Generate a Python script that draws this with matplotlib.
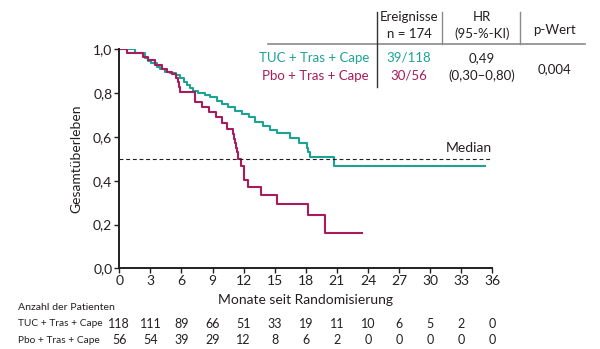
import numpy as np
import matplotlib
matplotlib.use('Agg')
import matplotlib.pyplot as plt
from matplotlib.lines import Line2D

# Kaplan-Meier steps (months, survival)
tuc_t = [0, 1.5, 2.5, 2.8, 3.1, 3.6, 3.9, 4.4, 4.9, 5.5, 5.9, 6.2, 6.5, 6.8, 7.1,
         7.6, 8.3, 8.8, 9.4, 9.9, 10.5, 11.2, 11.8, 12.5, 13.1, 13.9, 14.5, 15.2,
         16.5, 17.3, 18.1, 18.2, 18.4, 20.7, 35.3]
tuc_s = [1.0, 0.982, 0.959, 0.947, 0.936, 0.92, 0.91, 0.898, 0.89, 0.883, 0.868,
         0.852, 0.837, 0.822, 0.811, 0.80, 0.79, 0.78, 0.765, 0.75, 0.735, 0.72,
         0.705, 0.69, 0.67, 0.65, 0.632, 0.616, 0.594, 0.571, 0.548, 0.53, 0.507,
         0.467, 0.467]

pbo_t = [0, 0.7, 2.3, 2.8, 3.4, 4.1, 4.6, 5.1, 5.5, 5.7, 5.8, 5.9, 7.3, 8.0, 8.7,
         9.3, 9.9, 10.4, 11.0, 11.1, 11.2, 11.3, 11.4, 11.5, 11.7, 12.0, 12.45,
         13.7, 15.2, 18.2, 19.9, 23.4]
pbo_s = [1.0, 0.982, 0.966, 0.95, 0.93, 0.91, 0.895, 0.885, 0.87, 0.85, 0.83,
         0.806, 0.761, 0.738, 0.712, 0.69, 0.665, 0.637, 0.612, 0.59, 0.57, 0.55,
         0.53, 0.50, 0.467, 0.403, 0.373, 0.335, 0.294, 0.243, 0.163, 0.163]

x_ticks = [0, 3, 6, 9, 12, 15, 18, 21, 24, 27, 30, 33, 36]
y_ticks = [0.0, 0.2, 0.4, 0.6, 0.8, 1.0]
y_ticklabels = ['0,0', '0,2', '0,4', '0,6', '0,8', '1,0']

arms = ['TUC + Tras + Cape', 'Pbo + Tras + Cape']
events = ['39/118', '30/56']
hr_text = ['0,49', '(0,30–0,80)']
p_text = '0,004'
risk_tuc = [118, 111, 89, 66, 51, 33, 19, 11, 10, 6, 5, 2, 0]
risk_pbo = [56, 54, 39, 29, 12, 8, 6, 2, 0, 0, 0, 0, 0]

teal = '#1ba394'
magenta = '#a81b5c'
txt = '#231f20'

W, H = 600, 349
plt.rcParams['font.family'] = ['Lato', 'DejaVu Sans']
fig = plt.figure(figsize=(W / 100, H / 100), dpi=100)

def px(x, y):
    return x / W, 1 - y / H

ax_l, ax_r, ax_t, ax_b = 119.3, 492.3, 49.3, 268.3
ax = fig.add_axes([ax_l / W, 1 - ax_b / H, (ax_r - ax_l) / W, (ax_b - ax_t) / H])

ax.step(tuc_t, tuc_s, where='post', color=teal, lw=1.5)
ax.step(pbo_t, pbo_s, where='post', color=magenta, lw=1.5)
ax.axhline(0.5, color=txt, lw=0.8, ls=(0, (3.5, 2.5)))
ax.text(36, 0.52, 'Median', ha='right', va='bottom', fontsize=10, color=txt)

ax.set_xlim(0, 36)
ax.set_ylim(0, 1.0)
ax.set_xticks(x_ticks)
ax.set_yticks(y_ticks)
ax.set_yticklabels(y_ticklabels)
ax.tick_params(direction='out', length=3.5, width=1, colors=txt, labelsize=10, pad=1.5)
for s in ['top', 'right']:
    ax.spines[s].set_visible(False)
for s in ['left', 'bottom']:
    ax.spines[s].set_linewidth(1.4)
    ax.spines[s].set_color(txt)
ax.set_ylabel('Gesamtüberleben', fontsize=10, color=txt, labelpad=8)
ax.set_xlabel('Monate seit Randomisierung', fontsize=10, color=txt, labelpad=5)
ax.patch.set_alpha(0)

# table at top right
fs = 9.5
fig.text(*px(409, 17), 'Ereignisse', ha='center', va='center', fontsize=fs, color=txt)
fig.text(*px(409, 34), 'n = 174', ha='center', va='center', fontsize=fs, color=txt)
fig.text(*px(482, 17), 'HR', ha='center', va='center', fontsize=fs, color=txt)
fig.text(*px(482, 34), '(95-%-KI)', ha='center', va='center', fontsize=fs, color=txt)
fig.text(*px(554, 30), 'p-Wert', ha='center', va='center', fontsize=fs, color=txt)
for i, (arm, ev, hr, col) in enumerate(zip(arms, events, hr_text, [teal, magenta])):
    y = 58 + i * 18
    fig.text(*px(369, y), arm, ha='right', va='center', fontsize=fs, color=col)
    fig.text(*px(409, y), ev, ha='center', va='center', fontsize=fs, color=col)
    fig.text(*px(482, y), hr, ha='center', va='center', fontsize=fs, color=txt)
fig.text(*px(554, 69), p_text, ha='center', va='center', fontsize=fs, color=txt)

def seg(x0, y0, x1, y1, color, lw):
    a, b = px(x0, y0)
    c, d = px(x1, y1)
    fig.add_artist(Line2D([a, c], [b, d], color=color, lw=lw, transform=fig.transFigure))

seg(268, 43.5, 585, 43.5, '#8a8a8a', 1.2)
seg(376.7, 12, 376.7, 87, '#333333', 1.0)
seg(442, 12, 442, 43.5, '#8a8a8a', 1.0)
seg(520, 12, 520, 43.5, '#8a8a8a', 1.0)

# number at risk: size the row labels so they end before the first count column
renderer = fig.canvas.get_renderer()

def fit_size(s, width):
    probe = fig.text(0, 0, s, fontsize=10)
    w10 = probe.get_window_extent(renderer).width
    probe.remove()
    return min(10.0, 10.0 * width / w10)

ns = 9
ls = fit_size(arms[0], 84)
hs = fit_size('Anzahl der Patienten', 96)

fig.text(*px(18, 307), 'Anzahl der Patienten', ha='left', va='center', fontsize=hs, color=txt)
for row, (arm, counts) in enumerate(zip(arms, [risk_tuc, risk_pbo])):
    y = 324 + row * 16.5
    fig.text(*px(18, y), arm, ha='left', va='center', fontsize=ls, color=txt)
    for t, n in zip(x_ticks, counts):
        xp = ax_l + (ax_r - ax_l) * t / 36
        fig.text(*px(xp, y), str(n), ha='center', va='center', fontsize=ns, color=txt)

plt.savefig('out.png', dpi=100)
